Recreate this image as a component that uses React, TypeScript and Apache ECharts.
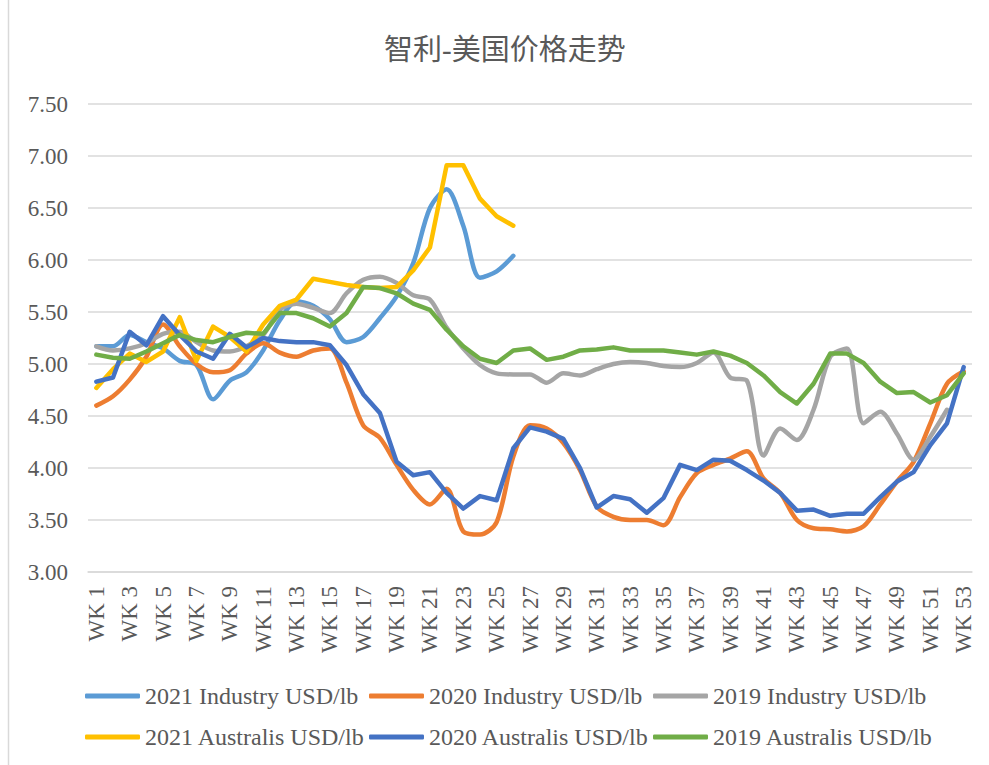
import React, { useEffect, useRef } from "react";
import * as echarts from "echarts";

const weeks = [
  "WK 1", "WK 2", "WK 3", "WK 4", "WK 5", "WK 6", "WK 7", "WK 8", "WK 9", "WK 10",
  "WK 11", "WK 12", "WK 13", "WK 14", "WK 15", "WK 16", "WK 17", "WK 18", "WK 19", "WK 20",
  "WK 21", "WK 22", "WK 23", "WK 24", "WK 25", "WK 26", "WK 27", "WK 28", "WK 29", "WK 30",
  "WK 31", "WK 32", "WK 33", "WK 34", "WK 35", "WK 36", "WK 37", "WK 38", "WK 39", "WK 40",
  "WK 41", "WK 42", "WK 43", "WK 44", "WK 45", "WK 46", "WK 47", "WK 48", "WK 49", "WK 50",
  "WK 51", "WK 52", "WK 53",
];

const industry2021 = [
  5.17, 5.17, 5.28, 5.21, 5.15, 5.03, 4.99, 4.66, 4.84, 4.92,
  5.13, 5.42, 5.6, 5.56, 5.43, 5.21, 5.26, 5.44, 5.65, 5.97,
  6.5, 6.68, 6.33, 5.83, 5.89, 6.04,
];

const industry2020 = [
  4.6, 4.69, 4.85, 5.07, 5.38, 5.17, 5.0, 4.92, 4.94, 5.1,
  5.2, 5.11, 5.07, 5.13, 5.15, 4.82, 4.41, 4.29, 4.03, 3.79,
  3.65, 3.8, 3.39, 3.36, 3.48, 4.11, 4.41, 4.38, 4.24, 3.98,
  3.63, 3.53, 3.5, 3.5, 3.45, 3.72, 3.95, 4.03, 4.09, 4.16,
  3.9, 3.76, 3.5, 3.42, 3.41, 3.39, 3.44, 3.65, 3.87, 4.06,
  4.43, 4.81, 4.93,
];

const industry2019 = [
  5.17, 5.13, 5.15, 5.2, 5.29, 5.31, 5.21, 5.13, 5.12, 5.17,
  5.28, 5.52, 5.58, 5.54, 5.49, 5.68, 5.81, 5.84, 5.78, 5.66,
  5.62, 5.35, 5.15, 4.99, 4.91, 4.9, 4.9, 4.82, 4.91, 4.89,
  4.95, 5.0, 5.02, 5.01, 4.98, 4.97, 5.01, 5.11, 4.87, 4.84,
  4.12, 4.38, 4.27, 4.56, 5.07, 5.15, 4.43, 4.54, 4.33, 4.08,
  4.3, 4.56,
];

const australis2021 = [
  4.77, 4.95, 5.1, 5.02, 5.12, 5.45, 5.03, 5.36, 5.26, 5.12,
  5.38, 5.56, 5.62, 5.82, 5.79, 5.76, 5.74, 5.73, 5.74, 5.9,
  6.12, 6.91, 6.91, 6.59, 6.42, 6.33,
];

const australis2020 = [
  4.83, 4.87, 5.31, 5.18, 5.46, 5.28, 5.12, 5.05, 5.29, 5.16,
  5.25, 5.22, 5.21, 5.21, 5.18, 4.99, 4.71, 4.53, 4.06, 3.93,
  3.96, 3.76, 3.61, 3.73, 3.69, 4.19, 4.39, 4.35, 4.28, 4.0,
  3.62, 3.73, 3.7, 3.57, 3.71, 4.03, 3.98, 4.08, 4.07, 3.98,
  3.88, 3.76, 3.59, 3.6, 3.54, 3.56, 3.56, 3.72, 3.87, 3.96,
  4.22, 4.43, 4.97,
];

const australis2019 = [
  5.09, 5.06, 5.05, 5.12, 5.2, 5.28, 5.23, 5.21, 5.26, 5.3,
  5.29, 5.49, 5.49, 5.44, 5.36, 5.49, 5.74, 5.73, 5.68, 5.58,
  5.52, 5.33, 5.17, 5.05, 5.01, 5.13, 5.15, 5.04, 5.07, 5.13,
  5.14, 5.16, 5.13, 5.13, 5.13, 5.11, 5.09, 5.12, 5.08, 5.01,
  4.89, 4.73, 4.62, 4.81, 5.1, 5.1, 5.01, 4.83, 4.72, 4.73,
  4.63, 4.7, 4.91,
];

const seriesNames = [
  "2021 Industry USD/lb",
  "2020 Industry USD/lb",
  "2019 Industry USD/lb",
  "2021 Australis USD/lb",
  "2020 Australis USD/lb",
  "2019 Australis USD/lb",
];
const seriesData = [industry2021, industry2020, industry2019, australis2021, australis2020, australis2019];
const seriesColors = ["#5B9BD5", "#ED7D31", "#A5A5A5", "#FFC000", "#4472C4", "#70AD47"];
const seriesSmooth = [0.3, 0.3, 0.3, 0, 0, 0];

const SERIF = "'Liberation Serif', 'Times New Roman', serif";
const TEXT = "#595959";

export default function App() {
  const ref = useRef<HTMLDivElement>(null);
  useEffect(() => {
    if (!ref.current) return;
    const chart = echarts.init(ref.current, undefined, { renderer: "svg" });
    const legendLefts = [85, 369, 653];
    const legendTops = [684, 725];
    const legends = seriesNames.map((name, i) => ({
      show: true,
      left: legendLefts[i % 3],
      top: legendTops[Math.floor(i / 3)],
      padding: 0,
      icon: "roundRect",
      itemWidth: 55,
      itemHeight: 5,
      data: [name],
      textStyle: { fontFamily: SERIF, fontSize: 24, color: TEXT, lineHeight: 24 },
    }));
    chart.setOption({
      animation: false,
      backgroundColor: "#ffffff",
      title: {
        text: "智利-美国价格走势",
        left: 384,
        top: 35,
        padding: 0,
        textStyle: {
          fontFamily: "'Liberation Serif', 'Noto Sans CJK SC', serif",
          fontSize: 29,
          fontWeight: "normal",
          color: TEXT,
        },
      },
      legend: legends,
      grid: { left: 88, right: 17, top: 104, bottom: 193, containLabel: false },
      xAxis: {
        type: "category",
        data: weeks,
        boundaryGap: true,
        axisLine: { show: true, lineStyle: { color: "#D9D9D9", width: 1.5 } },
        axisTick: { show: false },
        axisLabel: {
          interval: 1,
          rotate: 90,
          margin: 14,
          fontFamily: SERIF,
          fontSize: 23,
          color: TEXT,
        },
        splitLine: { show: false },
      },
      yAxis: {
        type: "value",
        min: 3,
        max: 7.5,
        interval: 0.5,
        axisLine: { show: false },
        axisTick: { show: false },
        axisLabel: {
          margin: 20,
          fontFamily: SERIF,
          fontSize: 23,
          color: TEXT,
          formatter: (v: number) => v.toFixed(2),
        },
        splitLine: { show: true, lineStyle: { color: "#D9D9D9", width: 1.5 } },
      },
      graphic: [
        {
          type: "line",
          shape: { x1: 8.5, y1: 0, x2: 8.5, y2: 765 },
          style: { stroke: "#D9D9D9", lineWidth: 1.5 },
          silent: true,
        },
      ],
      series: seriesNames.map((name, i) => ({
        name,
        type: "line",
        data: seriesData[i],
        smooth: seriesSmooth[i],
        showSymbol: false,
        symbol: "none",
        connectNulls: false,
        color: seriesColors[i],
        lineStyle: { width: 4.5, color: seriesColors[i], cap: "round", join: "round" },
        emphasis: { disabled: true },
      })),
    });
    return () => chart.dispose();
  }, []);
  return (
    <div
      ref={ref}
      style={{ position: "fixed", left: 0, top: 0, width: 989, height: 765, background: "#fff" }}
    />
  );
}
